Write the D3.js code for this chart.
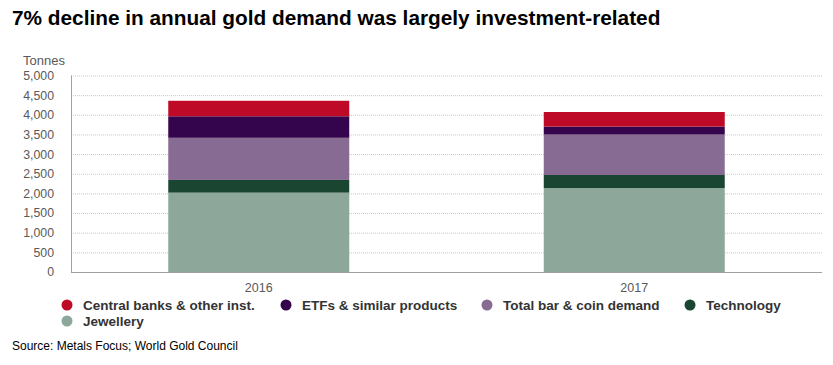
<!DOCTYPE html>
<html><head><meta charset="utf-8">
<script src="https://cdn.jsdelivr.net/npm/d3@7"></script>
<style>body{margin:0;background:#fff;}svg{display:block;font-family:"Liberation Sans",Arial,sans-serif;}</style>
</head><body><svg id="c" width="833" height="365"></svg>
<script>
const categories = ["2016", "2017"];
const seriesNames = ["Jewellery", "Technology", "Total bar & coin demand", "ETFs & similar products", "Central banks & other inst."];
const jewellery = [2019, 2135];
const technology = [323, 333];
const barCoin = [1073, 1029];
const etfs = [547, 203];
const centralBanks = [395, 371];
const yTicks = [0, 500, 1000, 1500, 2000, 2500, 3000, 3500, 4000, 4500, 5000];
const legendOrder = ["Central banks & other inst.", "ETFs & similar products", "Total bar & coin demand", "Technology", "Jewellery"];
const colors = {"Jewellery":"#8da89a","Technology":"#1a4631","Total bar & coin demand":"#876b93","ETFs & similar products":"#34054c","Central banks & other inst.":"#be0a26"};

const seriesVals = [jewellery, technology, barCoin, etfs, centralBanks];
const rows = categories.map((c,i)=>{const r={cat:c}; seriesNames.forEach((s,j)=>r[s]=seriesVals[j][i]); return r;});
const stack = d3.stack().keys(seriesNames)(rows);

const svg = d3.select("#c");
const pLeft=71, pRight=822, pTop=75.5, pBottom=272;
const x = d3.scaleBand().domain(categories).range([pLeft,pRight]).paddingInner(0.518).paddingOuter(0.259);
const y = d3.scaleLinear().domain([0,5000]).range([pBottom,pTop]);

svg.append("text").attr("x",12).attr("y",24.5).attr("font-size",20.8).attr("font-weight","bold").attr("fill","#000")
  .text("7% decline in annual gold demand was largely investment-related");

// gridlines
svg.append("g").selectAll("line").data(yTicks.filter(d=>d>0)).join("line")
  .attr("x1",pLeft).attr("x2",pRight).attr("y1",d=>y(d)+0.5).attr("y2",d=>y(d)+0.5)
  .attr("stroke","#c8c8c8").attr("stroke-dasharray","1,1");

// y axis
const ya = svg.append("g").attr("transform",`translate(${pLeft},0)`).call(d3.axisLeft(y).tickValues(yTicks).tickSize(0).tickPadding(17).tickFormat(d3.format(",")));
ya.select(".domain").remove();
ya.selectAll("text").attr("font-size",12.3).attr("fill","#595959").attr("font-family","Liberation Sans, Arial, sans-serif");
svg.append("line").attr("x1",pLeft+0.5).attr("x2",pLeft+0.5).attr("y1",pTop).attr("y2",pBottom).attr("stroke","#a0a0a0");

svg.append("text").attr("x",23).attr("y",65).attr("font-size",13).attr("fill","#595959").text("Tonnes");

// bars
svg.append("g").selectAll("g").data(stack).join("g").attr("fill",d=>colors[d.key])
  .selectAll("rect").data(d=>d).join("rect")
  .attr("x",d=>x(d.data.cat)).attr("width",x.bandwidth())
  .attr("y",d=>y(d[1])).attr("height",d=>y(d[0])-y(d[1]));

// x axis
svg.append("line").attr("x1",pLeft).attr("x2",pRight).attr("y1",pBottom+0.5).attr("y2",pBottom+0.5).attr("stroke","#a0a0a0");
const xa = svg.append("g").attr("transform",`translate(0,${pBottom})`).call(d3.axisBottom(x).tickSize(0).tickPadding(11));
xa.select(".domain").remove();
xa.selectAll("text").attr("font-size",12.5).attr("fill","#595959").attr("font-family","Liberation Sans, Arial, sans-serif");

// legend
const legPos = [[67,305],[286,305],[487,305],[690,305],[67,321]];
const lg = svg.append("g").selectAll("g").data(legendOrder).join("g")
  .attr("transform",(d,i)=>`translate(${legPos[i][0]},${legPos[i][1]})`);
lg.append("circle").attr("r",5.5).attr("fill",d=>colors[d]);
lg.append("text").attr("x",16).attr("y",4.8).attr("font-size",13.5).attr("font-weight","bold").attr("fill","#333")
  .text(d=>d);

svg.append("text").attr("x",12).attr("y",350).attr("font-size",12).attr("fill","#000").text("Source: Metals Focus; World Gold Council");
</script></body></html>
